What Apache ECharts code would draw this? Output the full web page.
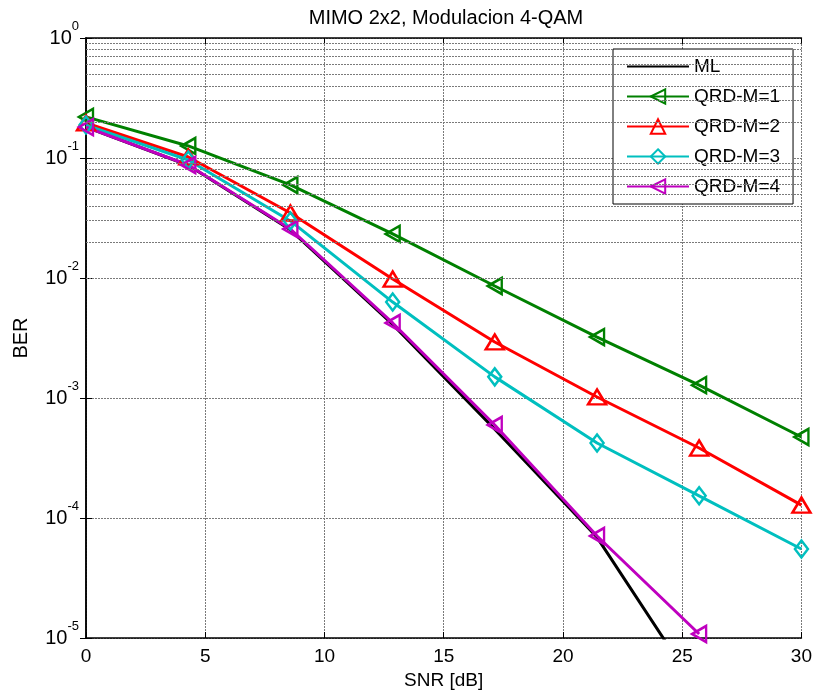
<!DOCTYPE html>
<html>
<head>
<meta charset="utf-8">
<script src="https://cdn.jsdelivr.net/npm/echarts@6/dist/echarts.min.js"></script>
<style>
html, body { margin: 0; padding: 0; background: #fff; }
#chart { width: 815px; height: 698px; }
</style>
</head>
<body>
<div id="chart"></div>
<script>
// SNR [dB] sample points
var snr = [0, 4.29, 8.57, 12.86, 17.14, 21.43, 25.71, 30];

// BER
var berML = [0.181, 0.087, 0.0252, 0.0041, 0.00055, 0.000069, 0.0000035];
var berM1 = [0.220, 0.126, 0.0596, 0.0233, 0.00858, 0.00322, 0.00128, 0.000473];
var berM2 = [0.196, 0.102, 0.0348, 0.0098, 0.00293, 0.00102, 0.000383, 0.000128];
var berM3 = [0.188, 0.0962, 0.0299, 0.0063, 0.0015, 0.000422, 0.000153, 0.0000552];
var berM4 = [0.181, 0.0874, 0.0256, 0.00422, 0.000596, 0.0000708, 0.0000108];

var seriesNames = ['ML', 'QRD-M=1', 'QRD-M=2', 'QRD-M=3', 'QRD-M=4'];

var FONT = '"Liberation Sans", Arial, Helvetica, sans-serif';
var GRID_COLOR = '#7a7a7a';

// minor log grid lines (2..9 x 10^k), MATLAB style
var minorLines = [];
for (var k = -5; k < 0; k++) {
  for (var m = 2; m <= 9; m++) minorLines.push({ yAxis: m * Math.pow(10, k) });
}

function mkSeries(name, vals, color, symbol, size, rotate) {
  return {
    name: name, type: 'line', xAxisIndex: 0, yAxisIndex: 0,
    data: vals.map(function (v, i) { return [snr[i], v]; }),
    symbol: symbol || 'none',
    showSymbol: !!symbol,
    symbolSize: size || 0,
    symbolRotate: rotate || 0,
    lineStyle: { color: color, width: 3 },
    itemStyle: { color: 'rgba(255,255,255,0)', borderColor: color, borderWidth: 2.5 },
    emphasis: { disabled: true },
    clip: true, z: 3
  };
}

var series = [
  mkSeries(seriesNames[0], berML, '#000000', null),
  mkSeries(seriesNames[1], berM1, '#008000', 'triangle', [16, 14], 90),
  mkSeries(seriesNames[2], berM2, '#ff0000', 'triangle', [18, 15], 0),
  mkSeries(seriesNames[3], berM3, '#00bfbf', 'diamond', [13, 17], 0),
  mkSeries(seriesNames[4], berM4, '#bf00bf', 'triangle', [16, 14], 90)
];
// ML has no marker: keep its legend symbol invisible too
series[0].itemStyle = { color: 'rgba(0,0,0,0)', borderColor: 'rgba(0,0,0,0)', borderWidth: 0, opacity: 0 };
series[0].markLine = {
  silent: true, symbol: 'none', animation: false,
  label: { show: false },
  lineStyle: { color: GRID_COLOR, type: [2, 1], width: 1 },
  data: minorLines
};
series[0].z = 2;

var chart = echarts.init(document.getElementById('chart'));
chart.setOption({
  animation: false,
  backgroundColor: '#fff',
  title: {
    text: 'MIMO 2x2, Modulacion 4-QAM',
    left: 441, top: 3, textAlign: 'center',
    textStyle: { fontFamily: FONT, fontSize: 20, fontWeight: 'normal', color: '#000' }
  },
  grid: { left: 86, right: 12, top: 38, bottom: 60, show: false },
  legend: {
    data: [{ name: 'ML', itemStyle: { opacity: 0 } }, 'QRD-M=1', 'QRD-M=2', 'QRD-M=3', 'QRD-M=4'],
    orient: 'vertical',
    left: 613, top: 49,
    itemWidth: 62, itemHeight: 18, itemGap: 11,
    padding: [8, 13, 8, 13],
    backgroundColor: '#fff',
    borderColor: '#000', borderWidth: 1,
    selectedMode: false,
    textStyle: { fontFamily: FONT, fontSize: 19, color: '#000' }
  },
  xAxis: [{
    type: 'value', min: 0, max: 30, interval: 5,
    name: 'SNR [dB]', nameLocation: 'middle', nameGap: 33,
    nameTextStyle: { fontFamily: FONT, fontSize: 19, color: '#000' },
    axisLine: { lineStyle: { color: '#000', width: 1.5 } },
    axisTick: { inside: true, length: 6, lineStyle: { color: '#000' } },
    axisLabel: { fontFamily: FONT, fontSize: 19, color: '#000', margin: 9 },
    splitLine: { show: true, lineStyle: { color: GRID_COLOR, type: [2, 1], width: 1 } }
  }, {
    type: 'value', min: 0, max: 30, interval: 5, position: 'top',
    axisLine: { lineStyle: { color: '#000', width: 1.5 } },
    axisTick: { inside: true, length: 6, lineStyle: { color: '#000' } },
    axisLabel: { show: false },
    splitLine: { show: false }
  }],
  yAxis: [{
    type: 'log', logBase: 10, min: 1e-5, max: 1,
    name: 'BER', nameLocation: 'middle', nameGap: 55,
    nameTextStyle: { fontFamily: FONT, fontSize: 20, color: '#000' },
    axisLine: { show: true, lineStyle: { color: '#000', width: 1.5 } },
    axisTick: { inside: true, length: 6, lineStyle: { color: '#000' } },
    axisLabel: {
      margin: 7,
      formatter: function (v) {
        var e = Math.round(Math.log(v) / Math.LN10);
        return '{b|10}{s|' + e + '}';
      },
      rich: {
        b: { fontFamily: FONT, fontSize: 20, color: '#000', lineHeight: 37 },
        s: { fontFamily: FONT, fontSize: 13, color: '#000', lineHeight: 13, verticalAlign: 'top' }
      }
    },
    splitLine: { show: true, lineStyle: { color: GRID_COLOR, type: [2, 1], width: 1 } }
  }, {
    type: 'log', logBase: 10, min: 1e-5, max: 1, position: 'right',
    axisLine: { show: true, lineStyle: { color: '#000', width: 1.5 } },
    axisTick: { inside: true, length: 6, lineStyle: { color: '#000' } },
    axisLabel: { show: false },
    splitLine: { show: false }
  }],
  series: series
});
</script>
</body>
</html>
